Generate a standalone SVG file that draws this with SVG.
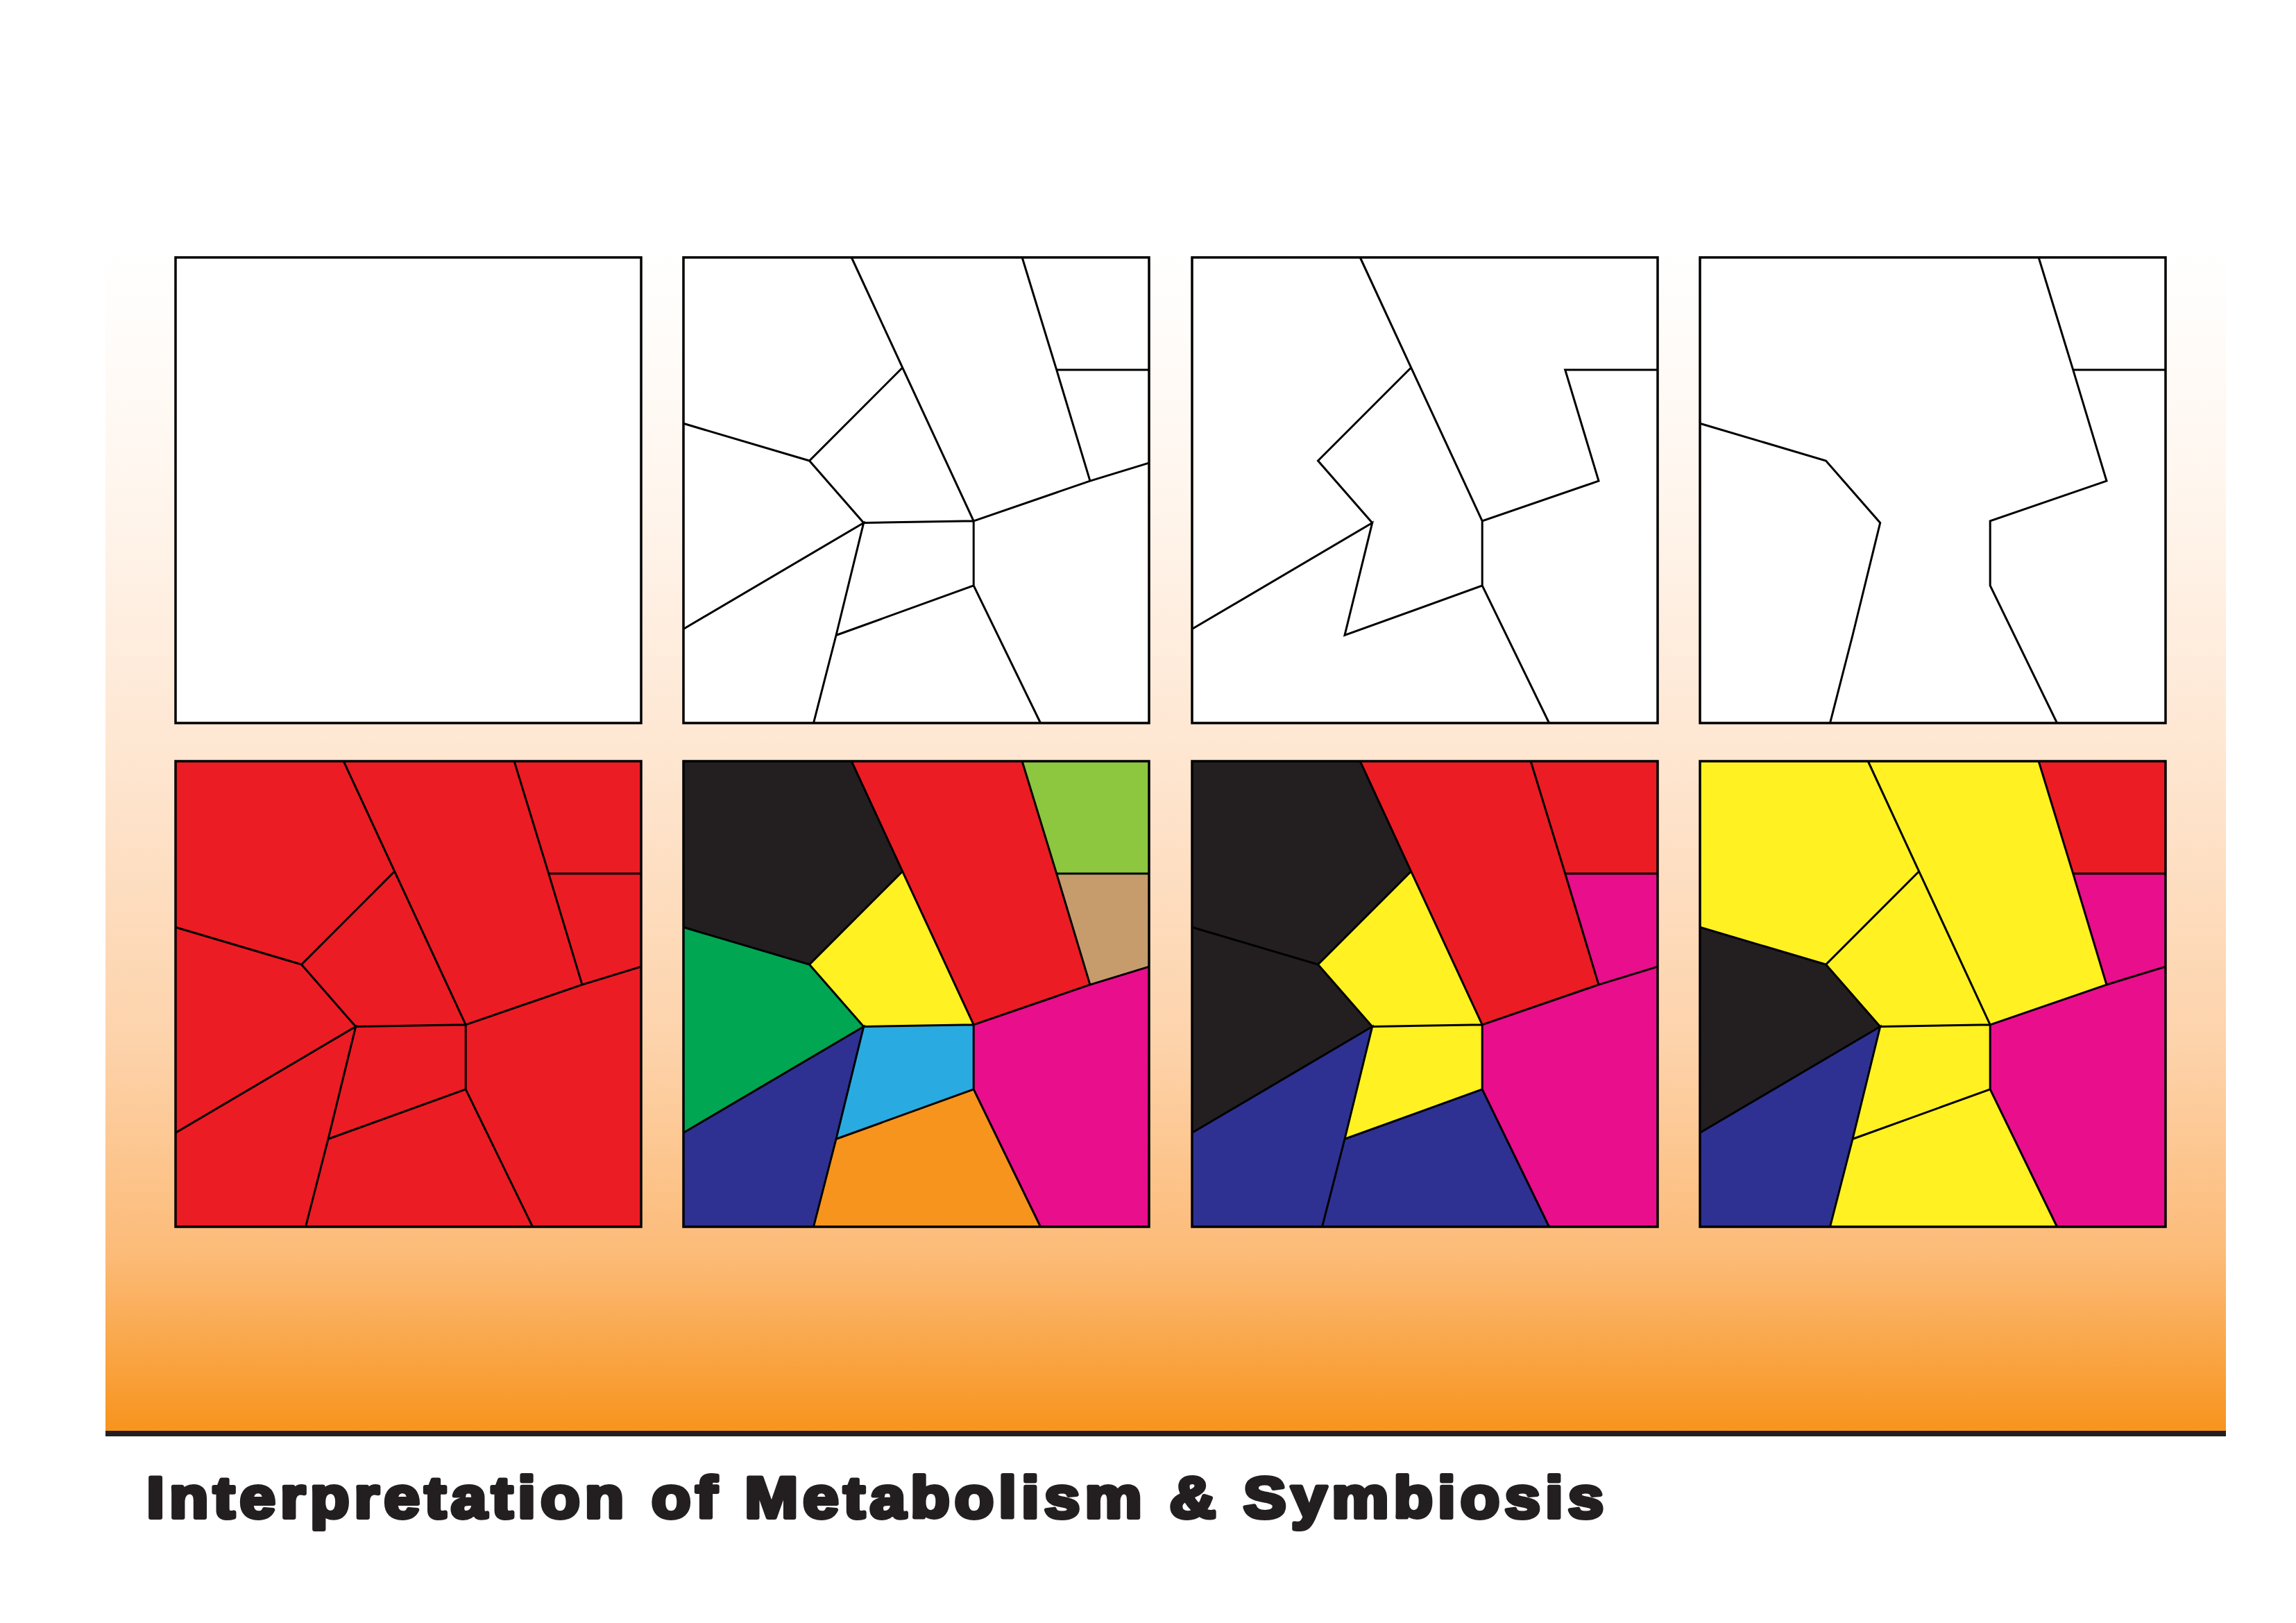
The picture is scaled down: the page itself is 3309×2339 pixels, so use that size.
<svg xmlns="http://www.w3.org/2000/svg" width="3309" height="2339" viewBox="0 0 3309 2339">
  <style>
    .net { fill: none; stroke: #000; stroke-width: 3; stroke-linejoin: miter; stroke-linecap: butt; }
    .frame { stroke: #000; stroke-width: 3.5; }
    .blank { fill: #fff; }
    .red { fill: #ec1c24; }
    .blk { fill: #231f20; }
    .lime { fill: #8dc63f; }
    .tan { fill: #c69c6d; }
    .yel { fill: #fff122; }
    .grn { fill: #00a651; }
    .cyan { fill: #29abe2; }
    .mag { fill: #e90e8b; }
    .navy { fill: #2e3192; }
    .org { fill: #f7941d; }
    .title { font-family: "Liberation Sans", Arial, sans-serif; font-weight: bold; font-size: 84px; fill: #231f20; stroke: #231f20; stroke-width: 6; stroke-linejoin: round; }
  </style>
  <defs>
    <linearGradient id="bg" gradientUnits="userSpaceOnUse" x1="0" y1="360" x2="0" y2="2062">
      <stop offset="0" stop-color="#ffffff"/>
      <stop offset="0.2" stop-color="#fff6ee"/>
      <stop offset="0.43" stop-color="#fee6d1"/>
      <stop offset="0.67" stop-color="#fdd3ab"/>
      <stop offset="0.85" stop-color="#fcbb78"/>
      <stop offset="1" stop-color="#f7941d"/>
    </linearGradient>
    <!-- the ten cells of the partition, in square-local coordinates (671 x 671) -->
    <path id="c1" d="M0,0 L242.2,0 L315.7,158.8 L181.5,293 L0,239.3 Z"/>
    <path id="c2" d="M242.2,0 L488.1,0 L537.7,161.9 L586,322.1 L418.2,379.8 L315.7,158.8 Z"/>
    <path id="c3" d="M488.1,0 L671,0 L671,161.9 L537.7,161.9 Z"/>
    <path id="c4" d="M537.7,161.9 L671,161.9 L671,296.1 L586,322.1 Z"/>
    <path id="c5" d="M315.7,158.8 L418.2,379.8 L259.7,382.5 L181.5,293 Z"/>
    <path id="c6" d="M0,239.3 L181.5,293 L259.7,382.5 L0,535.5 Z"/>
    <path id="c7" d="M259.7,382.5 L418.2,379.8 L418.2,472.9 L220,544.5 Z"/>
    <path id="c8" d="M586,322.1 L671,296.1 L671,671 L514.6,671 L418.2,472.9 L418.2,379.8 Z"/>
    <path id="c9" d="M0,535.5 L259.7,382.5 L220,544.5 L187.5,671 L0,671 Z"/>
    <path id="c10" d="M220,544.5 L418.2,472.9 L514.6,671 L187.5,671 Z"/>
    <!-- full boundary network -->
    <path id="netFull" class="net" d="M242.2,0 L315.7,158.8 L418.2,379.8 M488.1,0 L537.7,161.9 L586,322.1 M537.7,161.9 L671,161.9 M418.2,379.8 L586,322.1 L671,296.1 M0,239.3 L181.5,293 L315.7,158.8 M181.5,293 L259.7,382.5 M259.7,382.5 L418.2,379.8 M418.2,379.8 L418.2,472.9 M0,535.5 L259.7,382.5 L220,544.5 L187.5,671 M220,544.5 L418.2,472.9 L514.6,671"/>
    <!-- boundaries after the first merge -->
    <path id="netMerge1" class="net" d="M242.2,0 L315.7,158.8 L418.2,379.8 M315.7,158.8 L181.5,293 L259.7,382.5 M0,535.5 L259.7,382.5 L220,544.5 L418.2,472.9 L418.2,379.8 L586,322.1 L537.7,161.9 L671,161.9 M418.2,472.9 L514.6,671"/>
    <!-- boundaries after the second merge -->
    <path id="netMerge2" class="net" d="M488.1,0 L537.7,161.9 L586,322.1 L418.2,379.8 L418.2,472.9 L514.6,671 M537.7,161.9 L671,161.9 M0,239.3 L181.5,293 L259.7,382.5 L220,544.5 L187.5,671"/>
    <rect id="box" x="0" y="0" width="671" height="671" fill="none" class="frame"/>
  </defs>

  <!-- backdrop -->
  <g id="backdrop">
    <rect x="0" y="0" width="3309" height="2339" fill="#ffffff"/>
    <rect x="152" y="360" width="3056" height="1702" fill="url(#bg)"/>
    <rect x="152" y="2062" width="3056" height="8" fill="#231f20"/>
  </g>

  <!-- top row: outlines -->
  <g id="outline-1" transform="translate(253,371)">
    <rect x="0" y="0" width="671" height="671" class="blank"/>
    <use href="#box"/>
  </g>
  <g id="outline-2" transform="translate(985,371)">
    <rect x="0" y="0" width="671" height="671" class="blank"/>
    <use href="#netFull"/>
    <use href="#box"/>
  </g>
  <g id="outline-3" transform="translate(1718,371)">
    <rect x="0" y="0" width="671" height="671" class="blank"/>
    <use href="#netMerge1"/>
    <use href="#box"/>
  </g>
  <g id="outline-4" transform="translate(2450,371)">
    <rect x="0" y="0" width="671" height="671" class="blank"/>
    <use href="#netMerge2"/>
    <use href="#box"/>
  </g>

  <!-- bottom row: coloured cells -->
  <g id="cells-1" transform="translate(253,1097)">
    <rect x="0" y="0" width="671" height="671" class="red"/>
    <use href="#netFull"/>
    <use href="#box"/>
  </g>
  <g id="cells-2" transform="translate(985,1097)">
    <use href="#c1" class="blk"/>
    <use href="#c2" class="red"/>
    <use href="#c3" class="lime"/>
    <use href="#c4" class="tan"/>
    <use href="#c5" class="yel"/>
    <use href="#c6" class="grn"/>
    <use href="#c7" class="cyan"/>
    <use href="#c8" class="mag"/>
    <use href="#c9" class="navy"/>
    <use href="#c10" class="org"/>
    <use href="#netFull"/>
    <use href="#box"/>
  </g>
  <g id="cells-3" transform="translate(1718,1097)">
    <use href="#c1" class="blk"/>
    <use href="#c2" class="red"/>
    <use href="#c3" class="red"/>
    <use href="#c4" class="mag"/>
    <use href="#c5" class="yel"/>
    <use href="#c6" class="blk"/>
    <use href="#c7" class="yel"/>
    <use href="#c8" class="mag"/>
    <use href="#c9" class="navy"/>
    <use href="#c10" class="navy"/>
    <use href="#netFull"/>
    <use href="#box"/>
  </g>
  <g id="cells-4" transform="translate(2450,1097)">
    <use href="#c1" class="yel"/>
    <use href="#c2" class="yel"/>
    <use href="#c3" class="red"/>
    <use href="#c4" class="mag"/>
    <use href="#c5" class="yel"/>
    <use href="#c6" class="blk"/>
    <use href="#c7" class="yel"/>
    <use href="#c8" class="mag"/>
    <use href="#c9" class="navy"/>
    <use href="#c10" class="yel"/>
    <use href="#netFull"/>
    <use href="#box"/>
  </g>

  <g id="connectors"/>

  <!-- caption, widened to a heavy face -->
  <g id="title" transform="scale(1.1,1)">
    <text class="title" x="192" y="2187" textLength="1909" lengthAdjust="spacing">Interpretation of Metabolism &amp; Symbiosis</text>
  </g>
</svg>
